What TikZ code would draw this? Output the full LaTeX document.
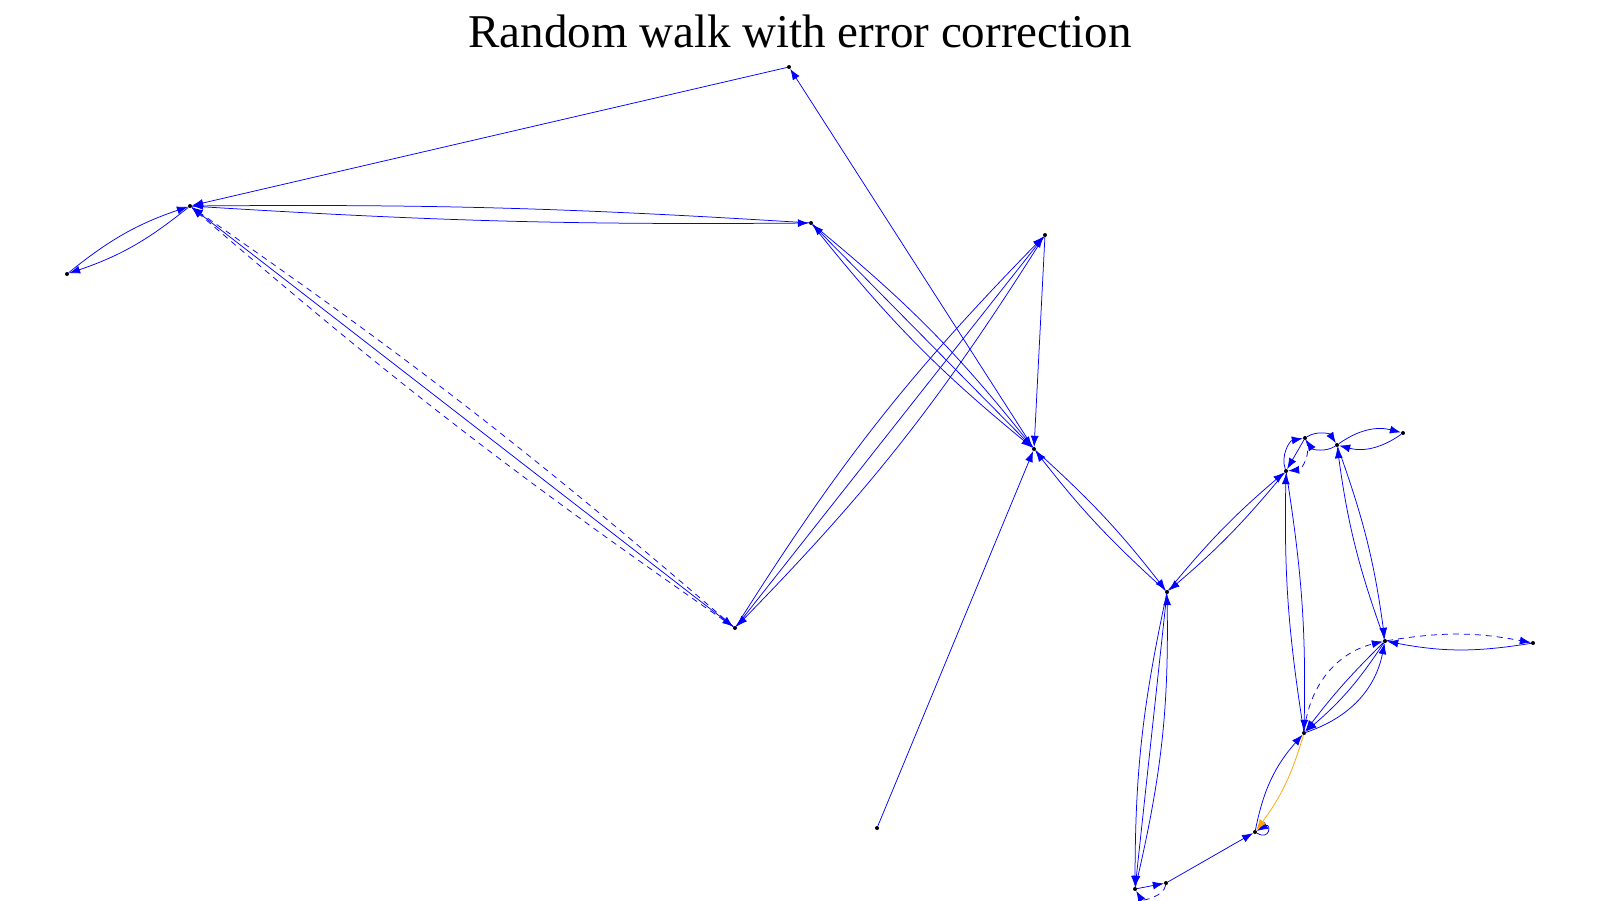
\documentclass[tikz,border=0pt]{standalone}
\usepackage{fontspec}
\setmainfont{Liberation Serif}
\usetikzlibrary{arrows.meta}

\definecolor{fixorange}{RGB}{255,165,0}
\tikzset{
  pt/.style={circle,fill=black,inner sep=0pt,minimum size=4pt},
  walk/.style={blue,line width=0.75pt,-{Latex[length=11pt,width=8pt]}},
  err/.style={walk,dashed,dash pattern=on 6pt off 5pt},
  fix/.style={walk,fixorange}
}

\begin{document}
\begin{tikzpicture}[x=1pt,y=-1pt]
	\useasboundingbox (0,0) rectangle (1600,900);
	\node[anchor=base] (title) at (800,47) {\fontsize{47}{52}\selectfont Random walk with error correction};
	% vertices of the walk
	\node[pt] (a) at (789,67) {};
	\node[pt] (b) at (190,206) {};
	\node[pt] (c) at (67,274) {};
	\node[pt] (d) at (811,223) {};
	\node[pt] (e) at (1045,235) {};
	\node[pt] (f) at (1034,449) {};
	\node[pt] (g) at (735,628) {};
	\node[pt] (h) at (877,828) {};
	\node[pt] (i) at (1167,592) {};
	\node[pt] (j) at (1286,471) {};
	\node[pt] (k) at (1305,438) {};
	\node[pt] (l) at (1337,445) {};
	\node[pt] (m) at (1403,433) {};
	\node[pt] (n) at (1385,641) {};
	\node[pt] (o) at (1533,643) {};
	\node[pt] (p) at (1304,733) {};
	\node[pt] (q) at (1255,832) {};
	\node[pt] (r) at (1166,883) {};
	\node[pt] (s) at (1135,889) {};
	% steps
	\draw[walk] (a) -- (b);
	\draw[walk] (f) -- (a);
	\draw[walk] (h) -- (f);
	\draw[walk] (b) to[bend left=10] (c);
	\draw[walk] (c) to[bend left=10] (b);
	\draw[walk] (b) to[bend right=2] (d);
	\draw[walk] (d) to[bend right=2] (b);
	\draw[walk] (b) -- (g);
	\draw[err] (g) to[bend left=3] (b);
	\draw[err] (g) to[bend right=3] (b);
	\draw[walk] (d) to[bend left=6] (f);
	\draw[walk] (d) to[bend right=6] (f);
	\draw[walk] (f) -- (d);
	\draw[walk] (g) to[bend left=6] (e);
	\draw[walk] (g) -- (e);
	\draw[walk] (e) to[bend left=6] (g);
	\draw[walk] (e) -- (f);
	\draw[walk] (f) to[bend left=5] (i);
	\draw[walk] (i) to[bend left=5] (f);
	\draw[walk] (i) to[bend left=5] (j);
	\draw[walk] (j) to[bend left=5] (i);
	\draw[walk] (i) to[bend right=6] (s);
	\draw[walk] (i) -- (s);
	\draw[walk] (s) to[bend right=7] (i);
	\draw[walk] (s) -- (r);
	\draw[err] (r) to[bend left=70] (s);
	\draw[walk] (r) -- (q);
	\draw[walk] (q) to[out=-30,in=30,loop,min distance=16pt] (q);
	\draw[walk] (q) to[bend left=15] (p);
	\draw[fix] (p) to[bend left=10] (q);
	\draw[walk] (p) to[bend left=5] (j);
	\draw[walk] (j) to[bend left=5] (p);
	\draw[err] (p) to[bend left=35] (n);
	\draw[walk] (n) to[bend right=4] (p);
	\draw[walk] (n) to[bend left=8] (p);
	\draw[walk] (p) to[bend right=30] (n);
	\draw[walk] (l) to[bend left=6] (n);
	\draw[walk] (n) to[bend left=6] (l);
	\draw[err] (n) to[bend left=10] (o);
	\draw[walk] (o) to[bend left=10] (n);
	\draw[walk] (l) to[bend left=25] (m);
	\draw[walk] (m) to[bend left=25] (l);
	\draw[walk] (j) to[bend left=50] (k);
	\draw[walk] (k) -- (j);
	\draw[err] (k) to[bend left=55] (j);
	\draw[walk] (k) to[bend left=45] (l);
	\draw[walk] (l) to[bend left=45] (k);
\end{tikzpicture}
\end{document}
